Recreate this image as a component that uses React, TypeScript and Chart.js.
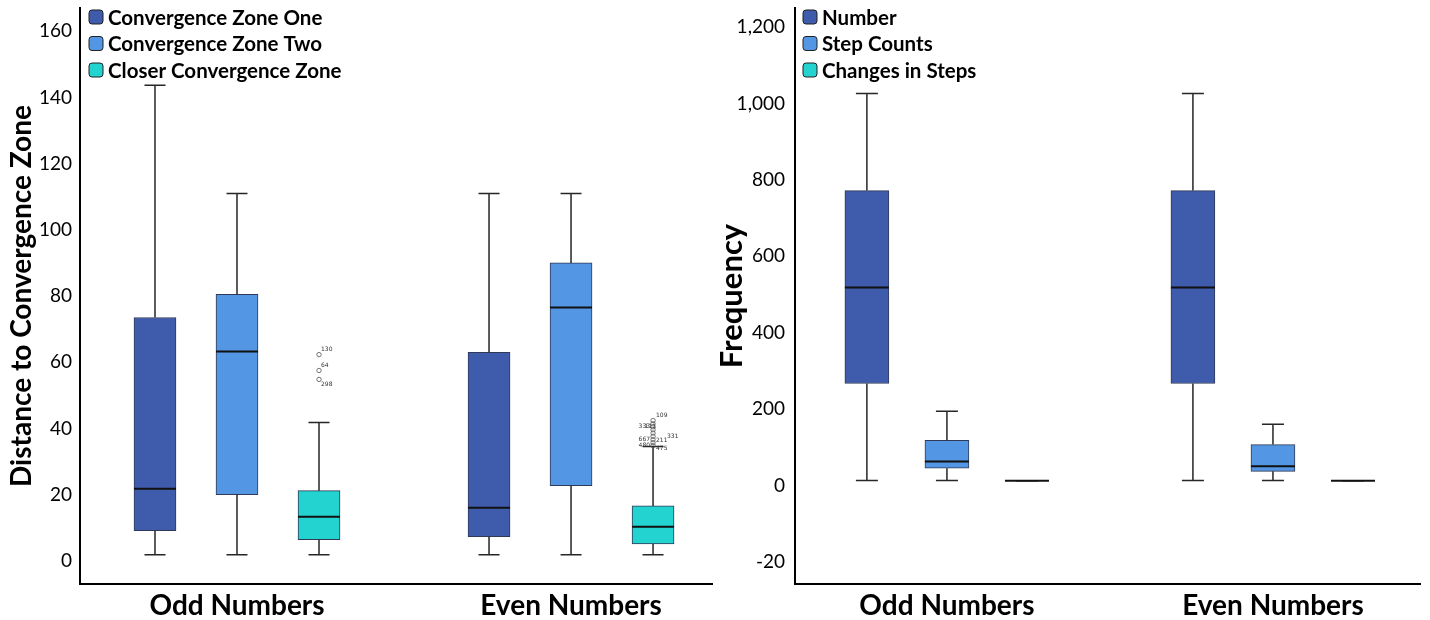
import React, { useEffect, useRef } from "react";
import { Chart, registerables } from "chart.js";
Chart.register(...registerables);

const FONT = "Lato, 'Open Sans', sans-serif";

const groupLabels = ["Odd Numbers", "Even Numbers"];

// ---- Left chart data: [min, q1, median, q3, max] per group ----
const zoneOneStats = [
  [1.8, 9.1, 21.8, 73.5, 143.7],
  [1.8, 7.3, 16.0, 63.0, 111.0],
];
const zoneTwoStats = [
  [1.8, 20.0, 63.2, 80.5, 111.0],
  [1.8, 22.7, 76.5, 90.0, 111.0],
];
const closerZoneStats = [
  [1.8, 6.4, 13.3, 21.2, 41.8],
  [1.8, 5.1, 10.3, 16.6, 34.5],
];
const closerOutlierGroups = [0, 0, 0, 1, 1, 1, 1, 1, 1, 1, 1, 1];
const closerOutlierValues = [62.3, 57.5, 54.8, 42.4, 41.4, 40.5, 39.6, 38.6, 37.6, 36.6, 35.7, 34.8];
const closerLabelGroups = [0, 0, 0, 1, 1, 1, 1, 1, 1, 1, 1];
const closerLabelValues = [62.3, 57.5, 54.8, 42.4, 40.5, 40.5, 37.6, 36.6, 36.6, 34.8, 34.8];
const closerLabelTexts = ["130", "64", "298", "109", "333", "111", "331", "667", "211", "480", "475"];
const leftYTicks = [0, 20, 40, 60, 80, 100, 120, 140, 160];

// ---- Right chart data ----
const numberStats = [
  [13, 267, 518, 772, 1026],
  [13, 267, 518, 772, 1026],
];
const stepCountStats = [
  [13, 45, 63, 118, 194],
  [13, 37, 50, 107, 160],
];
const stepChangeStats = [
  [12, 12, 12, 12, 12],
  [12, 12, 12, 12, 12],
];
const rightYTickValues = [-200, 0, 200, 400, 600, 800, 1000, 1200];
const rightYTickLabels = ["-20", "0", "200", "400", "600", "800", "1,000", "1,200"];

// ---- styling ----
const COLORS = ["#3F5BAB", "#5396E3", "#22D3CF"];
const BOX_BORDER = "rgba(25,35,70,0.9)";
const SERIES_OFFSETS = [-0.2455, 0, 0.2455];
// label placement for outlier labels: [dx, dy, align]
const LABEL_PLACEMENT: [number, number, CanvasTextAlign][] = [
  [2, -5, "left"], [2, -5, "left"], [2, 5, "left"], [3, -5, "left"],
  [-3, 0, "right"], [3, 0, "right"], [14, 0, "left"], [-3, 0, "right"],
  [3, 1, "left"], [-3, 0, "right"], [3, 3, "left"],
];

type Series = { label: string; stats: number[][]; color: string };

function makePlugin(p: any) {
  return {
    id: "boxDetails",
    afterDatasetsDraw(chart: any) {
      const { ctx } = chart;
      const ys = chart.scales.y;
      const xs = chart.scales.x;
      ctx.save();
      p.series.forEach((s: Series, i: number) => {
        const meta = chart.getDatasetMeta(i);
        meta.data.forEach((bar: any, j: number) => {
          const { x, width } = bar.getProps(["x", "width"], true);
          const [mn, q1, md, q3, mx] = s.stats[j];
          const yMin = ys.getPixelForValue(mn);
          const yQ1 = ys.getPixelForValue(q1);
          const yMd = ys.getPixelForValue(md);
          const yQ3 = ys.getPixelForValue(q3);
          const yMax = ys.getPixelForValue(mx);
          const cap = width / 2;
          ctx.strokeStyle = "#262626";
          ctx.lineWidth = 1.5;
          ctx.beginPath();
          ctx.moveTo(x, yQ3);
          ctx.lineTo(x, yMax);
          ctx.moveTo(x - cap / 2, yMax);
          ctx.lineTo(x + cap / 2, yMax);
          ctx.moveTo(x, yQ1);
          ctx.lineTo(x, yMin);
          ctx.moveTo(x - cap / 2, yMin);
          ctx.lineTo(x + cap / 2, yMin);
          ctx.stroke();
          ctx.strokeStyle = "#111";
          ctx.lineWidth = 2;
          ctx.beginPath();
          ctx.moveTo(x - width / 2, yMd);
          ctx.lineTo(x + width / 2, yMd);
          ctx.stroke();
        });
      });
      if (p.outliers) {
        const o = p.outliers;
        const off = SERIES_OFFSETS[o.series];
        ctx.strokeStyle = "#555";
        ctx.lineWidth = 0.8;
        o.groups.forEach((g: number, k: number) => {
          const cx = xs.getPixelForValue(g + off);
          const cy = ys.getPixelForValue(o.values[k]);
          ctx.beginPath();
          ctx.arc(cx, cy, 2.2, 0, Math.PI * 2);
          ctx.stroke();
        });
        ctx.fillStyle = "#333";
        ctx.font = "6px 'DejaVu Sans', sans-serif";
        ctx.textBaseline = "middle";
        o.labelGroups.forEach((g: number, k: number) => {
          const [dx, dy, al] = LABEL_PLACEMENT[k];
          const cx = xs.getPixelForValue(g + off);
          const cy = ys.getPixelForValue(o.labelValues[k]);
          ctx.textAlign = al;
          ctx.fillText(o.labelTexts[k], cx + dx, cy + dy);
        });
      }
      ctx.restore();
    },
    afterDraw(chart: any) {
      const { ctx, chartArea } = chart;
      ctx.save();
      p.series.forEach((s: Series, i: number) => {
        const yc = chartArea.top + 9 + i * 26.5;
        const bx = chartArea.left + p.legendOffset;
        ctx.beginPath();
        ctx.roundRect(bx, yc - 7, 14, 14, 3);
        ctx.fillStyle = s.color;
        ctx.fill();
        ctx.strokeStyle = "#222";
        ctx.lineWidth = 1;
        ctx.stroke();
        ctx.fillStyle = "#000";
        ctx.font = `bold 20.5px ${FONT}`;
        ctx.textAlign = "left";
        ctx.textBaseline = "middle";
        ctx.fillText(s.label, bx + 19, yc + 1);
      });
      ctx.restore();
    },
  };
}

function buildConfig(p: any) {
  const datasets = p.series.map((s: Series, i: number) => ({
    type: "bar",
    label: s.label,
    data: s.stats.map((st, j) => ({ x: j + SERIES_OFFSETS[i], y: [st[1], st[3]] })),
    backgroundColor: s.color,
    borderColor: BOX_BORDER,
    borderWidth: 1,
    borderSkipped: false,
    barThickness: p.boxWidth,
    grouped: false,
  }));
  return {
    type: "bar",
    data: { datasets },
    options: {
      responsive: false,
      animation: false,
      layout: { padding: { top: 8, right: p.rightPad, left: 0, bottom: 0 } },
      plugins: { legend: { display: false }, tooltip: { enabled: false } },
      scales: {
        x: {
          type: "linear",
          min: p.xMin,
          max: p.xMax,
          offset: false,
          grid: { display: false, drawTicks: false },
          border: { display: true, color: "#000", width: 2 },
          afterBuildTicks: (s: any) => {
            s.ticks = groupLabels.map((_, i) => ({ value: i }));
          },
          ticks: {
            callback: (v: any) => groupLabels[v] ?? "",
            font: { family: FONT, size: 28, weight: "bold" },
            color: "#000",
            padding: 5,
            maxRotation: 0,
            autoSkip: false,
          },
          afterFit: (s: any) => {
            s.height = 36;
            s.paddingLeft = 0;
            s.paddingRight = 0;
          },
        },
        y: {
          type: "linear",
          min: p.yMin,
          max: p.yMax,
          grid: { display: false, drawTicks: false },
          border: { display: true, color: "#000", width: 2 },
          afterBuildTicks: (s: any) => {
            s.ticks = p.yTicks.map((v: number) => ({ value: v }));
          },
          ticks: {
            callback: (v: any) => p.yLabel(v),
            font: { family: FONT, size: 19 },
            color: "#000",
            padding: p.tickPad,
          },
          title: {
            display: true,
            text: p.title,
            font: { family: FONT, size: p.titleSize, weight: "bold" },
            color: "#000",
            padding: { top: p.titlePad, bottom: 0 },
          },
          afterFit: (s: any) => {
            s.width = 80;
            s.paddingTop = 0;
            s.paddingBottom = 0;
          },
        },
      },
    },
    plugins: [makePlugin(p)],
  };
}

const leftParams = {
  series: [
    { label: "Convergence Zone One", stats: zoneOneStats, color: COLORS[0] },
    { label: "Convergence Zone Two", stats: zoneTwoStats, color: COLORS[1] },
    { label: "Closer Convergence Zone", stats: closerZoneStats, color: COLORS[2] },
  ],
  outliers: {
    series: 2,
    groups: closerOutlierGroups,
    values: closerOutlierValues,
    labelGroups: closerLabelGroups,
    labelValues: closerLabelValues,
    labelTexts: closerLabelTexts,
  },
  boxWidth: 42,
  xMin: -0.47,
  xMax: 1.422,
  yMin: -7,
  yMax: 167,
  yTicks: leftYTicks,
  yLabel: (v: number) => String(v),
  title: "Distance to Convergence Zone",
  titleSize: 28,
  titlePad: 5.2,
  tickPad: 8,
  rightPad: 3,
  legendOffset: 9,
};

const rightParams = {
  series: [
    { label: "Number", stats: numberStats, color: COLORS[0] },
    { label: "Step Counts", stats: stepCountStats, color: COLORS[1] },
    { label: "Changes in Steps", stats: stepChangeStats, color: COLORS[2] },
  ],
  outliers: null,
  boxWidth: 44,
  xMin: -0.466,
  xMax: 1.451,
  yMin: -258,
  yMax: 1250,
  yTicks: rightYTickValues,
  yLabel: (v: number) => {
    const i = rightYTickValues.indexOf(v);
    return i >= 0 ? rightYTickLabels[i] : "";
  },
  title: "Frequency",
  titleSize: 31,
  titlePad: -1.5,
  tickPad: 10,
  rightPad: 10,
  legendOffset: 8,
};

function BoxChart({ params, left }: { params: any; left: number }) {
  const ref = useRef<HTMLCanvasElement | null>(null);
  useEffect(() => {
    if (!ref.current) return;
    const chart = new Chart(ref.current, buildConfig(params) as any);
    return () => chart.destroy();
  }, []);
  return (
    <canvas
      ref={ref}
      width={715}
      height={620}
      style={{ position: "absolute", left, top: 0, width: 715, height: 620 }}
    />
  );
}

export default function App() {
  return (
    <div style={{ position: "fixed", left: 0, top: 0, width: 1430, height: 620, background: "#fff" }}>
      <BoxChart params={leftParams} left={0} />
      <BoxChart params={rightParams} left={715} />
    </div>
  );
}
